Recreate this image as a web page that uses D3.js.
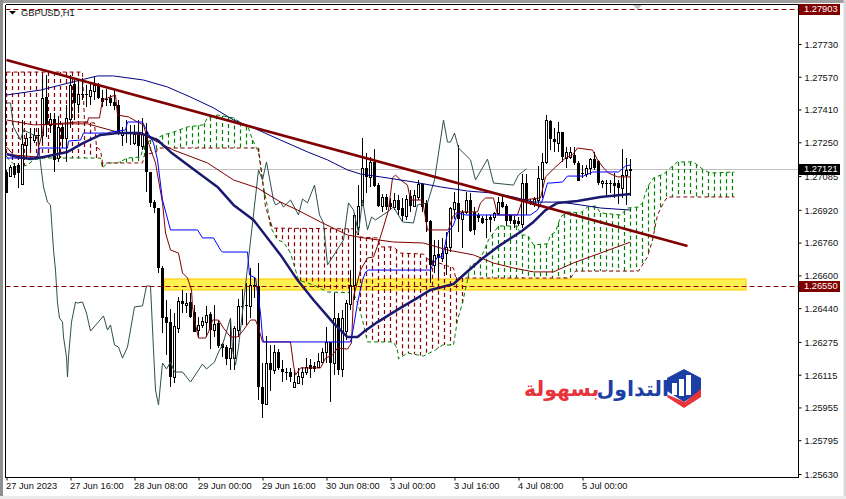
<!DOCTYPE html>
<html><head><meta charset="utf-8">
<script src="https://cdn.jsdelivr.net/npm/d3@7"></script>
<style>
html,body{margin:0;padding:0;background:#fff;overflow:hidden}
svg{display:block}
text{font-family:"Liberation Sans",Arial,sans-serif;font-size:9.3px;fill:#111}
</style></head><body><svg id="c" width="846" height="499"></svg>
<script>
// prices are stored as points: price = 1 + value / 100000
const symbolTitle = "GBPUSD,H1";
const timeLabels = ["27 Jun 2023","27 Jun 16:00","28 Jun 08:00","29 Jun 00:00","29 Jun 16:00","30 Jun 08:00","3 Jul 00:00","3 Jul 16:00","4 Jul 08:00","5 Jul 00:00"];
const timeTickBars = [0,16,32,48,64,80,96,112,128,144];
const priceTicks = [1.2789,1.2773,1.2757,1.2741,1.2725,1.27085,1.2692,1.2676,1.266,1.2644,1.26275,1.26115,1.25955,1.25795,1.2563];
const opens = [27105,27085,27134,27139,27046,27237,27276,27261,27286,27286,27471,27335,27364,27173,27325,27271,27364,27535,27437,27486,27486,27476,27501,27530,27466,27461,27466,27447,27432,27286,27300,27300,27247,27291,27232,27300,27105,26958,26929,26636,26397,26372,26104,26343,26475,26455,26470,26421,26333,26358,26372,26411,26333,26367,26265,26250,26196,26196,26333,26451,26455,26451,26553,26548,26055,25972,26172,26138,26226,26143,26128,26128,26055,26074,26104,26128,26162,26157,26153,26177,26226,26275,26172,26392,26143,26328,26460,26553,26836,26944,27125,27081,27154,27041,26939,26983,26954,26934,26968,26929,26890,26988,26939,26983,27046,26954,26866,26651,26704,26685,26709,26739,26924,26954,26875,26910,26968,26910,26895,26880,26875,26885,26885,26905,26958,26939,26895,26871,26866,26851,27051,26963,26954,26968,27071,27154,27354,27266,27247,27300,27173,27178,27188,27149,27100,27095,27125,27168,27159,27051,27051,27051,27051,27051,27027,27090,27115];
const highs = [27115,27139,27149,27149,27359,27295,27320,27320,27320,27579,27579,27393,27393,27378,27344,27432,27579,27554,27554,27564,27530,27540,27569,27540,27505,27510,27481,27510,27457,27325,27359,27335,27335,27359,27369,27344,27105,26968,26929,26646,26480,26436,26416,26495,26529,26514,26514,26455,26397,26397,26451,26421,26455,26382,26270,26260,26392,26353,26485,26534,26563,26636,26587,26661,26172,26304,26260,26260,26240,26187,26148,26148,26138,26148,26153,26196,26192,26177,26221,26245,26348,26275,26514,26416,26431,26480,26626,26905,27041,27271,27198,27178,27217,27051,26997,26997,26978,27002,26993,26978,26993,27017,27017,27066,27051,26968,26871,26773,26773,26783,26812,26934,27007,27237,26919,27007,27002,26934,26905,26890,26895,26895,26910,26983,26993,26949,26895,26890,26885,27095,27095,26973,26983,27134,27198,27384,27359,27320,27349,27300,27227,27227,27227,27159,27139,27139,27173,27203,27164,27066,27066,27066,27100,27066,27217,27173,27168];
const lows = [27002,27081,27076,27027,27041,27178,27212,27247,27222,27247,27276,27295,27105,27154,27222,27154,27320,27359,27393,27457,27422,27432,27457,27461,27422,27427,27427,27408,27286,27232,27247,27237,27237,27178,27212,27007,26934,26905,26612,26319,26211,26055,26074,26319,26416,26416,26392,26323,26294,26343,26299,26240,26299,26245,26201,26162,26138,26138,26299,26358,26358,26392,26490,25991,25903,25972,26035,26118,26138,26079,26089,26079,26055,26070,26065,26113,26099,26128,26148,26172,26172,25982,26113,26113,26104,26284,26431,26480,26797,26939,27002,27032,27032,26934,26910,26919,26919,26919,26895,26866,26871,26910,26934,26968,26910,26812,26563,26612,26592,26665,26602,26714,26875,26812,26734,26900,26812,26797,26861,26851,26783,26812,26866,26895,26929,26841,26851,26831,26841,26831,26895,26944,26934,26929,26978,27144,27212,27203,27203,27154,27125,27168,27139,27061,27076,27081,27090,27115,27041,27027,26983,27002,26978,26949,26978,26944,26988];
const closes = [27002,27129,27090,27100,27242,27271,27271,27286,27281,27466,27335,27364,27164,27325,27266,27369,27530,27442,27486,27481,27481,27505,27530,27466,27447,27457,27442,27427,27295,27295,27295,27291,27291,27232,27295,27105,26954,26929,26636,26392,26367,26104,26353,26475,26460,26465,26397,26323,26358,26377,26407,26333,26363,26255,26245,26192,26245,26343,26451,26446,26451,26553,26543,26055,25972,26172,26138,26226,26148,26128,26123,26104,26079,26109,26128,26153,26143,26143,26182,26226,26275,26172,26392,26138,26392,26465,26553,26895,26939,27125,27081,27154,27037,26939,26983,26934,26934,26968,26919,26890,26973,26939,26993,27046,26934,26861,26651,26700,26685,26709,26739,26929,26958,26875,26910,26968,26817,26822,26880,26856,26871,26871,26905,26958,26934,26866,26866,26851,26851,27051,26954,26954,26973,27076,27154,27359,27266,27251,27300,27178,27203,27203,27149,27061,27095,27125,27168,27125,27051,27061,27046,27046,27037,27027,27090,27115,27120];

// indicator vertices: [bar, points]
const tenkan = [[0,27227],[1.75,27188],[7.75,27178],[8,27227],[9,27295],[9.25,27335],[17.75,27349],[20.25,27349],[20.5,27369],[23.25,27369],[24,27457],[27.25,27481],[27.75,27383],[30.5,27374],[32.75,27349],[34.25,27335],[35.5,27247],[37.25,27149],[39,26954],[39.75,26807],[41,26724],[43,26709],[44,26612],[45.25,26587],[46.25,26529],[46.5,26446],[47.25,26358],[48,26294],[49.75,26294],[50.5,26323],[51.5,26382],[53,26382],[54.25,26343],[56,26299],[57.75,26299],[59.25,26333],[61,26382],[62.25,26382],[63,26343],[64,26275],[71,26275],[71.75,26162],[72.25,26113],[73.5,26148],[78.5,26148],[79.75,26196],[81.5,26211],[82.75,26245],[85.25,26240],[86.25,26270],[86.75,26495],[88.5,26626],[90.25,26685],[91.75,26690],[93,26758],[94.25,26836],[95.5,26919],[96.5,27076],[97.25,27090],[98.5,27066],[100.25,27041],[101,26968],[104,26968],[105.25,26822],[110.5,26822],[111.5,26885],[112.75,26910],[117.75,26910],[118.5,26954],[119.75,26978],[121.75,26978],[122.75,26895],[127.75,26895],[129,26968],[133.5,26978],[134.75,27081],[137.25,27129],[139.75,27173],[141.5,27188],[142.75,27222],[146.5,27212],[147.75,27164],[149.25,27125],[150.5,27100],[152.75,27081],[156,27081]];
const kijun = [[0,27173],[7.75,27173],[8.25,27222],[15.25,27222],[15.5,27256],[18.5,27261],[19.25,27295],[25.25,27295],[26,27300],[29.75,27310],[30.25,27349],[34,27349],[35.25,27300],[36.75,27247],[37.75,27164],[39,26968],[41,26822],[47.75,26822],[49,26783],[51.75,26783],[53.5,26724],[54,26714],[60.25,26714],[60.75,26602],[62.25,26587],[63.5,26416],[64,26299],[64.25,26275],[86,26275],[86.5,26319],[87.75,26465],[89,26577],[89.75,26616],[90.5,26626],[106,26626],[106.5,26651],[107.75,26690],[109,26690],[110.25,26807],[111.75,26846],[112.75,26905],[114.75,26895],[131,26895],[132.75,26919],[134,26968],[135.25,27051],[136,27051],[139,27056],[140.25,27085],[144.25,27085],[146.5,27105],[153,27105],[154.75,27134],[156,27139]];
const chikou = [[0,27442],[1,27442],[1.75,27325],[3.5,27261],[4.25,27310],[7.75,27276],[8.5,27149],[9.25,27032],[10.25,26958],[11,26944],[11.75,26724],[12.25,26626],[12.75,26465],[13.25,26392],[14,26372],[14.25,26299],[15,26201],[15.25,26104],[15.5,26201],[16.25,26372],[17.25,26470],[17.75,26465],[19,26470],[20,26416],[21,26328],[24.25,26402],[25.25,26333],[26,26358],[27,26260],[28,26250],[29,26196],[30.25,26250],[32,26446],[34,26451],[35,26548],[36,26548],[36.75,26236],[37.25,26040],[38,25967],[39,26172],[40,26143],[41,26177],[42,26128],[44,26128],[46,26079],[49,26167],[50,26143],[52,26177],[53,26226],[54,26260],[56,26392],[56.5,26236],[57.25,26162],[58,26250],[60.75,26724],[63,27115],[64,27066],[65,27154],[66.75,26968],[67.25,26944],[68.5,26958],[69.25,26934],[71,26968],[73,26895],[74,26973],[75.25,26954],[77,27041],[78.25,26895],[79.25,26856],[80.25,26651],[84.25,26773],[85.5,26954],[86.75,26919],[88,26807],[89,26968],[90.25,26822],[91.25,26885],[92.25,26871],[95.25,26910],[96.75,26934],[99,26861],[101.75,26856],[102.75,26944],[105.25,26954],[107,27066],[109.25,27359],[110.25,27251],[111,27251],[112,27295],[113,27222],[116,27164],[117.25,27066],[120.25,27168],[121.75,27051],[126.75,27041],[128,27090],[130,27120]];
const maFast = [[0,27193],[2.75,27178],[6,27168],[9.25,27178],[15.25,27203],[19.25,27247],[23.5,27286],[27.75,27295],[33.5,27295],[37.75,27261],[41,27203],[46,27129],[52.75,27032],[56.75,26944],[61.75,26871],[68.5,26700],[72.75,26577],[76.75,26480],[81.75,26367],[85.25,26299],[87.75,26299],[89.25,26323],[92.75,26372],[98.5,26441],[102.75,26490],[106,26529],[111.75,26558],[114.25,26602],[118.5,26675],[122.75,26739],[128.5,26812],[131.75,26861],[134.75,26919],[137.75,26954],[142.75,26963],[148.5,26983],[156,26998]];
const maMid = [[0,27481],[8.5,27505],[18.5,27554],[22.75,27574],[26.75,27574],[34.25,27554],[40.25,27520],[46,27471],[51.75,27418],[56.75,27359],[61.75,27320],[68.5,27261],[75.25,27203],[80.25,27164],[85.25,27115],[88.5,27095],[93.5,27081],[101.75,27056],[108.5,27032],[115.25,27012],[121.75,27002],[126.75,26983],[131.75,26958],[138.5,26958],[143.5,26944],[148.5,26929],[156,26919]];
const maSlow = [[0,27359],[6.75,27335],[15.25,27340],[20.25,27340],[27.75,27300],[34.25,27286],[41.75,27212],[50.25,27149],[56.75,27066],[62.75,27027],[68.5,26958],[72.75,26919],[78.5,26861],[85.25,26797],[89.25,26783],[96.75,26763],[104.25,26758],[110.25,26724],[116.75,26700],[121.75,26660],[126.75,26636],[131.75,26617],[136.75,26617],[141.75,26661],[148.5,26709],[156,26763]];
const spanA = [[0,27178],[2.75,27125],[5.25,27139],[6.75,27164],[9.25,27173],[23.5,27173],[24,27125],[25.25,27149],[27.75,27149],[30.25,27173],[33.5,27178],[34.25,27227],[36,27261],[37.75,27271],[39.25,27286],[41.75,27300],[45.25,27325],[49.25,27335],[50.25,27369],[52.75,27383],[56.75,27369],[60.5,27320],[61.5,27261],[63,27203],[64.25,27032],[65.25,26934],[66,26836],[67.75,26773],[69.25,26763],[71,26709],[73,26577],[76.75,26553],[80.25,26519],[86.75,26514],[87.75,26465],[89,26382],[90.25,26275],[96.75,26275],[97.75,26236],[98,26192],[100.25,26221],[104.25,26206],[107.25,26236],[109,26260],[111.75,26260],[112.75,26382],[114,26465],[115.25,26577],[116,26651],[117.75,26661],[119.25,26714],[120.5,26773],[123,26841],[127.75,26841],[128.5,26797],[130.25,26797],[131.75,26749],[135.25,26754],[136,26797],[137.25,26812],[138.5,26885],[140.25,26910],[143.5,26905],[145.25,26934],[147.25,26939],[148.5,26905],[153.5,26895],[155.25,26929],[158,26934],[159,26954],[160.25,27032],[161.75,27076],[164.25,27095],[166,27125],[167.75,27154],[171.75,27154],[174.25,27115],[176,27100],[182,27105]];
const spanB = [[0,27593],[19,27593],[19.5,27349],[22,27344],[22.5,27227],[23.5,27212],[24,27149],[34,27149],[34.5,27188],[37.5,27203],[37.75,27222],[63,27222],[64,27066],[64.75,26934],[66.5,26831],[87.25,26827],[88,26788],[92.75,26783],[93.5,26739],[96.75,26739],[98.5,26709],[104.25,26704],[105.25,26680],[111.75,26636],[112.25,26592],[114,26587],[141,26587],[142.25,26621],[158,26621],[160.25,26690],[161.5,26773],[162.75,26895],[164.25,26954],[165.25,26983],[182,26983]];
const trendLine = [[0,27652],[170.25,26744]];
const bidPrice = 1.27121, topLevel = 1.27903, supportLevel = 1.2655;
const zoneBars = [39.5,185], zonePrices = [1.26582,1.26529];
const logoWords = ["التداول","بسهولة"];

const svg = d3.select("#c");
const P = v => 1 + v/100000;
const x = d3.scaleLinear().domain([0,1]).range([6.5,10.5]);
const y = d3.scaleLinear().domain([1.2773,1.2563]).range([44,474]);
const L = 5.5, R = 798.5, T = 4.5, B = 477.5;
const bars = d3.range(opens.length);

// window chrome
svg.append("rect").attr("width",846).attr("height",499).attr("fill","#fff");
svg.append("rect").attr("width",846).attr("height",3).attr("fill","#9d9d9d");
svg.append("rect").attr("width",3).attr("height",499).attr("fill","#8f8f8f");
svg.append("rect").attr("x",843.5).attr("width",2.5).attr("height",499).attr("fill","#d8d8d8");
svg.append("rect").attr("y",496).attr("width",846).attr("height",3).attr("fill","#ececec");

const plot = svg.append("g");

// grey bid line
plot.append("line").attr("x1",L).attr("x2",R).attr("y1",Math.round(y(bidPrice))+.5).attr("y2",Math.round(y(bidPrice))+.5).attr("stroke","#c0c0c0");

// zone rectangle
plot.append("rect").attr("x",x(zoneBars[0])).attr("width",x(zoneBars[1])-x(zoneBars[0])-.5)
  .attr("y",y(zonePrices[0])).attr("height",y(zonePrices[1])-y(zonePrices[0]))
  .attr("fill","#fff14f").attr("stroke","#ffd824").attr("stroke-width",1.5);

// cloud hatching
const a = d3.scaleLinear().domain(spanA.map(d=>d[0])).range(spanA.map(d=>d[1]));
const b = d3.scaleLinear().domain(spanB.map(d=>d[0])).range(spanB.map(d=>d[1]));
const cloudBars = d3.range(0,182.5,1.5);
plot.append("g").selectAll("line").data(cloudBars).join("line")
  .attr("x1",i=>Math.round(x(i)-.5)+.5).attr("x2",i=>Math.round(x(i)-.5)+.5)
  .attr("y1",i=>y(P(Math.max(a(i),b(i))))).attr("y2",i=>y(P(Math.min(a(i),b(i)))))
  .attr("stroke-width",1.2)
  .attr("stroke",i=>a(i)>=b(i)?"#008000":"#8b0000").attr("stroke-dasharray","4,3");

const line = d3.line().x(d=>x(d[0])).y(d=>y(P(d[1])));
const drawLine = (data,col,w,dash) => plot.append("path").attr("d",line(data)).attr("fill","none")
  .attr("stroke",col).attr("stroke-width",w).attr("stroke-dasharray",dash||null).attr("stroke-linejoin","round");

drawLine(spanA,"#008000",1,"4,3");
drawLine(spanB,"#8b0000",1,"4,3");

// candles
const cg = plot.append("g").attr("shape-rendering","crispEdges");
cg.selectAll("line").data(bars).join("line")
  .attr("x1",x).attr("x2",x)
  .attr("y1",i=>y(P(highs[i]))).attr("y2",i=>y(P(lows[i]))).attr("stroke","#000");
cg.selectAll("rect").data(bars).join("rect")
  .attr("x",i=>x(i)-1.5+(closes[i]>=opens[i]?0.5:0))
  .attr("width",i=>closes[i]>=opens[i]?2:3)
  .attr("y",i=>Math.round(y(P(Math.max(opens[i],closes[i]))))+(closes[i]>=opens[i]?.5:0))
  .attr("height",i=>Math.max(1,Math.round(y(P(Math.min(opens[i],closes[i]))))-Math.round(y(P(Math.max(opens[i],closes[i]))))))
  .attr("fill",i=>closes[i]>=opens[i]?"#fff":"#000")
  .attr("stroke",i=>closes[i]>=opens[i]?"#000":"none");

// indicators
drawLine(chikou,"#2f4f4f",1);
drawLine(maSlow,"#800000",1);
drawLine(tenkan,"#800000",1);
drawLine(maMid,"#000080",1);
drawLine(kijun,"#0000ff",1);
drawLine(maFast,"#191970",2.5);
drawLine(trendLine,"#800000",2.6);

// horizontal levels
[topLevel,supportLevel].forEach(p=>{
  plot.append("line").attr("x1",L).attr("x2",R).attr("y1",Math.round(y(p))+.5).attr("y2",Math.round(y(p))+.5)
    .attr("stroke","#8b0000").attr("stroke-dasharray","5,3");
});

// axes
svg.append("path").attr("d",`M${L},${T}V${B}H${R}V${T}H${L}`).attr("fill","none").attr("stroke","#000").attr("shape-rendering","crispEdges");

const ay = d3.axisRight(y).tickValues(priceTicks).tickFormat(d3.format(".5f")).tickSize(3).tickPadding(3);
const gy = svg.append("g").attr("transform",`translate(${R},0)`).call(ay);
gy.select(".domain").remove();
gy.selectAll("line").attr("stroke","#000");
gy.selectAll("text").attr("dy","0.36em").attr("fill","#111");

const ax = d3.axisBottom(x).tickValues(timeTickBars).tickFormat((d,i)=>timeLabels[i]).tickSize(3).tickPadding(2);
const gx = svg.append("g").attr("transform",`translate(0,${B})`).call(ax);
gx.select(".domain").remove();
gx.selectAll("line").attr("stroke","#000");
gx.selectAll("text").attr("text-anchor","start").attr("x",-1).attr("fill","#111");

// price tags
const tags = [[topLevel,"#800000"],[bidPrice,"#000"],[supportLevel,"#800000"]];
tags.forEach(([p,c])=>{
  svg.append("rect").attr("x",799).attr("y",Math.round(y(p))-5).attr("width",41).attr("height",11).attr("fill",c);
  svg.append("text").attr("x",804).attr("y",y(p)).attr("dy","0.36em").style("fill","#fff").text(d3.format(".5f")(p));
});

// last-bar marker on the top edge
svg.append("path").attr("d",d3.line()([[633,5],[642,5],[637.5,9.5]])+"Z").attr("fill","#c0c0c0");

// title
svg.append("path").attr("d",d3.line()([[9,11],[16,11],[12.5,14.5]])+"Z").attr("fill","#000");
svg.append("text").attr("x",21).attr("y",16).attr("fill","#222").text(symbolTitle);

// logo
const lg = svg.append("g");
lg.append("text").attr("x",596.5).attr("y",396).attr("direction","rtl").attr("text-anchor","end")
  .style("font-family","'DejaVu Sans'").style("font-weight","bold").style("font-size","20.5px").style("fill","#1c3fa6").text(logoWords[0]);
lg.append("text").attr("x",524).attr("y",396).attr("direction","rtl").attr("text-anchor","end")
  .style("font-family","'DejaVu Sans'").style("font-weight","bold").style("font-size","20.5px").style("fill","#e8323c").text(logoWords[1]);
lg.append("path").attr("d","M684,369 L701,378 L701,391 L684,402 L667,391 L667,378 Z").attr("fill","#1c3fa6");
lg.append("path").attr("d","M667,397 L684,408 L701,397 L701,389 L685,402 L668,395 Z").attr("fill","#e8323c");
lg.append("path").attr("d","M672,383h5v12h-5zM679,379h5v17h-5zM686,375h5v20h-5z").attr("fill","#fff");
</script></body></html>
